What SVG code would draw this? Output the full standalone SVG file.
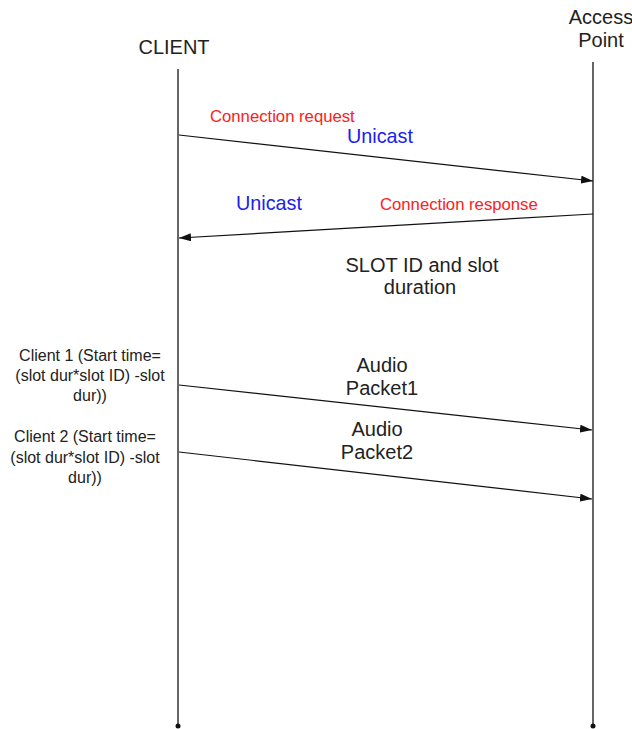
<svg xmlns="http://www.w3.org/2000/svg" width="632" height="729" viewBox="0 0 632 729">
<defs>
<style>
text{font-family:"Liberation Sans",Arial,sans-serif;fill:#222}
.lbl{font-size:20px}
.sm{font-size:16px}
.red{fill:#ff2020;font-size:16.7px}
.blue{fill:#2020ee;font-size:19.8px}
.life{stroke:#333;stroke-width:1.5;fill:none}
.msg{stroke:#111;stroke-width:1.2;fill:none;marker-end:url(#ah)}
</style>
<marker id="ah" viewBox="0 0 12 8" refX="12" refY="4" markerWidth="12" markerHeight="8" markerUnits="userSpaceOnUse" orient="auto"><path d="M0,0 L12,4 L0,8 Z" fill="#111"/></marker>
</defs>
<rect width="632" height="729" fill="#fff"/>
<g id="client">
<text class="lbl" x="174" y="54" text-anchor="middle">CLIENT</text>
<line class="life" x1="178" y1="69" x2="178" y2="725"/>
<circle cx="178" cy="726" r="2.5" fill="#111"/>
</g>
<g id="accesspoint">
<text class="lbl" x="601" y="24" text-anchor="middle">Access</text>
<text class="lbl" x="601" y="47" text-anchor="middle">Point</text>
<line class="life" x1="593" y1="62" x2="593" y2="725"/>
<circle cx="593" cy="726" r="2.5" fill="#111"/>
</g>
<g id="connectors">
<line class="msg" x1="179" y1="135" x2="593" y2="181"/>
<line class="msg" x1="593" y1="214" x2="179" y2="238"/>
<line class="msg" x1="179" y1="385" x2="592" y2="430"/>
<line class="msg" x1="179" y1="452" x2="592" y2="499"/>
</g>
<g id="labels">
<text class="red" x="210" y="122">Connection request</text>
<text class="blue" x="347" y="143">Unicast</text>
<text class="blue" x="236" y="210">Unicast</text>
<text class="red" x="380" y="210">Connection response</text>
<text class="lbl" x="422" y="272" text-anchor="middle">SLOT ID and slot</text>
<text class="lbl" x="420" y="294" text-anchor="middle">duration</text>
<text class="lbl" x="382" y="372" text-anchor="middle">Audio</text>
<text class="lbl" x="382" y="395" text-anchor="middle">Packet1</text>
<text class="lbl" x="377" y="436" text-anchor="middle">Audio</text>
<text class="lbl" x="377" y="459" text-anchor="middle">Packet2</text>
<text class="sm" x="90" y="361" text-anchor="middle">Client 1 (Start time=</text>
<text class="sm" x="90" y="381" text-anchor="middle">(slot dur*slot ID) -slot</text>
<text class="sm" x="90" y="401" text-anchor="middle">dur))</text>
<text class="sm" x="85" y="442" text-anchor="middle">Client 2 (Start time=</text>
<text class="sm" x="85" y="463" text-anchor="middle">(slot dur*slot ID) -slot</text>
<text class="sm" x="85" y="483" text-anchor="middle">dur))</text>
</g>
</svg>
